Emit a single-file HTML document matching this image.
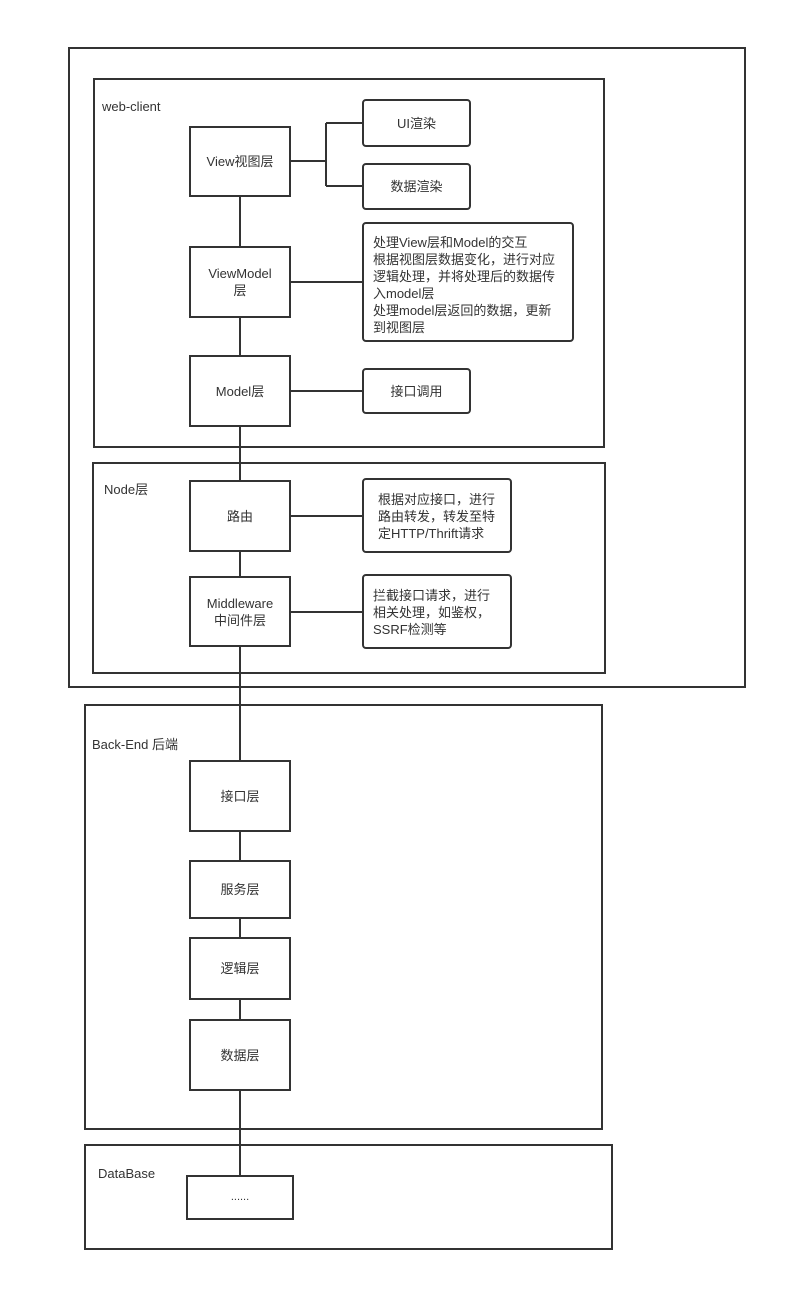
<!DOCTYPE html>
<html><head><meta charset="utf-8"><style>
html,body{margin:0;padding:0;background:#fff;}
body{width:807px;height:1312px;position:relative;overflow:hidden;font-family:"Liberation Sans","Noto Sans CJK SC",sans-serif;color:#333;font-size:13px;}
.b{position:absolute;box-sizing:border-box;border:2px solid #333;background:#fff;}
.n{display:flex;align-items:center;justify-content:center;text-align:center;line-height:17px;}
.r{border-radius:4px;}
.d{padding:10px 0 0 9px;line-height:17px;font-size:13px;white-space:nowrap;}
.l{position:absolute;font-size:13px;}
svg{position:absolute;left:0;top:0;}
</style></head><body>
<div class="b" style="left:68px;top:47px;width:678px;height:641px;"></div>
<div class="b" style="left:93px;top:78px;width:512px;height:370px;"></div>
<div class="b" style="left:92px;top:462px;width:514px;height:212px;"></div>
<div class="b" style="left:84px;top:704px;width:519px;height:426px;"></div>
<div class="b" style="left:84px;top:1144px;width:529px;height:106px;"></div>
<svg width="807" height="1312"><g stroke="#333" stroke-width="2" fill="none">
<line x1="240" y1="196" x2="240" y2="1176"/>
<line x1="290" y1="161" x2="326" y2="161"/>
<line x1="326" y1="123" x2="326" y2="186"/>
<line x1="326" y1="123" x2="363" y2="123"/>
<line x1="326" y1="186" x2="363" y2="186"/>
<line x1="290" y1="282" x2="363" y2="282"/>
<line x1="290" y1="391" x2="363" y2="391"/>
<line x1="290" y1="516" x2="363" y2="516"/>
<line x1="290" y1="612" x2="363" y2="612"/>
</g></svg>
<div class="l" style="left:102px;top:99px;">web-client</div>
<div class="l" style="left:104px;top:479px;">Node层</div>
<div class="l" style="left:92px;top:734px;">Back-End 后端</div>
<div class="l" style="left:98px;top:1166px;">DataBase</div>
<div class="b n" style="left:189px;top:126px;width:102px;height:71px;">View视图层</div>
<div class="b n r" style="left:362px;top:99px;width:109px;height:48px;">UI渲染</div>
<div class="b n r" style="left:362px;top:163px;width:109px;height:47px;">数据渲染</div>
<div class="b n" style="left:189px;top:246px;width:102px;height:72px;">ViewModel<br>层</div>
<div class="b r d" style="left:362px;top:222px;width:212px;height:120px;">处理View层和Model的交互<br>根据视图层数据变化，进行对应<br>逻辑处理，并将处理后的数据传<br>入model层<br>处理model层返回的数据，更新<br>到视图层</div>
<div class="b n" style="left:189px;top:355px;width:102px;height:72px;">Model层</div>
<div class="b n r" style="left:362px;top:368px;width:109px;height:46px;">接口调用</div>
<div class="b n" style="left:189px;top:480px;width:102px;height:72px;">路由</div>
<div class="b r d" style="left:362px;top:478px;width:150px;height:75px;padding:11px 0 0 14px;">根据对应接口，进行<br>路由转发，转发至特<br>定HTTP/Thrift请求</div>
<div class="b n" style="left:189px;top:576px;width:102px;height:71px;">Middleware<br>中间件层</div>
<div class="b r d" style="left:362px;top:574px;width:150px;height:75px;padding:11px 0 0 9px;">拦截接口请求，进行<br>相关处理，如鉴权，<br>SSRF检测等</div>
<div class="b n" style="left:189px;top:760px;width:102px;height:72px;">接口层</div>
<div class="b n" style="left:189px;top:860px;width:102px;height:59px;">服务层</div>
<div class="b n" style="left:189px;top:937px;width:102px;height:63px;">逻辑层</div>
<div class="b n" style="left:189px;top:1019px;width:102px;height:72px;">数据层</div>
<div class="b n" style="left:186px;top:1175px;width:108px;height:45px;font-size:11px;">......</div>
</body></html>
